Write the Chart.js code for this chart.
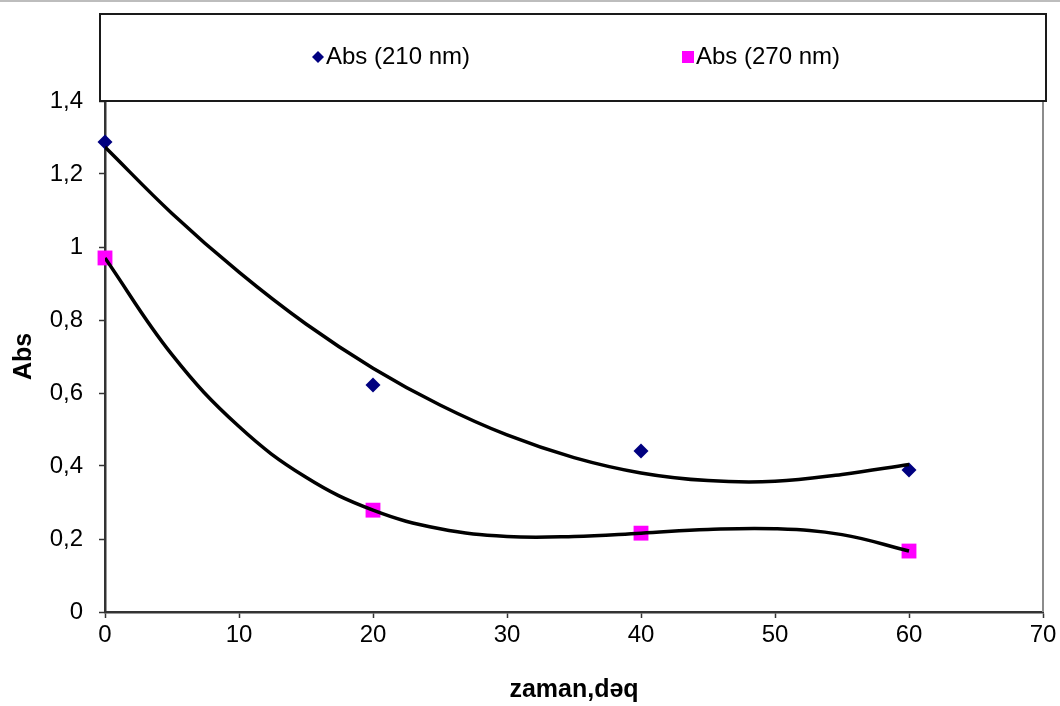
<!DOCTYPE html>
<html lang="az">
<head>
<meta charset="UTF-8">
<title>Abs - zaman</title>
<script src="https://cdn.jsdelivr.net/npm/chart.js"></script>
<style>
  html, body { margin: 0; padding: 0; background: #fff; }
  .wrap { width: 1060px; height: 706px; }
</style>
</head>
<body>
<div class="wrap"><canvas id="absChart" width="1060" height="706"></canvas></div>
<script>
// measured points
const minutes = [0, 20, 40, 60];
const abs210 = [1.288, 0.622, 0.441, 0.389];
const abs270 = [0.970, 0.279, 0.216, 0.167];
const seriesNames = ['Abs (210 nm)', 'Abs (270 nm)'];

// trend curves, every 5 min
const trendMinutes = [0, 5, 10, 15, 20, 25, 30, 35, 40, 45, 50, 55, 60];
const trend210 = [1.274, 1.092, 0.931, 0.789, 0.668, 0.567, 0.485, 0.423, 0.381, 0.360, 0.358, 0.377, 0.404];
const trend270 = [0.970, 0.705, 0.508, 0.369, 0.279, 0.228, 0.207, 0.207, 0.216, 0.226, 0.228, 0.212, 0.167];

const xTicks = [0, 10, 20, 30, 40, 50, 60, 70];
const yTicks = [0, 0.2, 0.4, 0.6, 0.8, 1, 1.2, 1.4];

const FONT = '"Liberation Sans", Arial, sans-serif';
const NAVY = '#000080';
const MAGENTA = '#ff00ff';

function pts(xs, ys) {
  return xs.map((x, i) => ({ x: x, y: ys[i] }));
}

// white background, outer frame line, legend box and right border
const framePlugin = {
  id: 'frame',
  beforeDraw(chart) {
    const ctx = chart.ctx;
    ctx.save();
    ctx.fillStyle = '#fff';
    ctx.fillRect(0, 0, chart.width, chart.height);
    ctx.restore();
  },
  afterDraw(chart) {
    const ctx = chart.ctx;
    const a = chart.chartArea;
    ctx.save();
    // thin gray line along the top of the picture
    ctx.strokeStyle = '#bdbdbd';
    ctx.lineWidth = 2;
    ctx.beginPath();
    ctx.moveTo(0, 1);
    ctx.lineTo(chart.width, 1);
    ctx.stroke();

    // right edge of plot area
    ctx.strokeStyle = '#8c8c8c';
    ctx.lineWidth = 2;
    ctx.beginPath();
    ctx.moveTo(a.right, a.top);
    ctx.lineTo(a.right, a.bottom);
    ctx.stroke();

    // legend box
    const boxL = a.left - 5, boxR = a.right + 3, boxT = 14, boxB = a.top;
    ctx.strokeStyle = '#1a1a1a';
    ctx.lineWidth = 2;
    ctx.strokeRect(boxL, boxT, boxR - boxL, boxB - boxT);

    // legend entries
    const cy = 57;
    ctx.font = '24px ' + FONT;
    ctx.textBaseline = 'middle';
    ctx.textAlign = 'left';

    ctx.fillStyle = NAVY;
    ctx.beginPath();
    ctx.moveTo(318, cy - 6);
    ctx.lineTo(324, cy);
    ctx.lineTo(318, cy + 6);
    ctx.lineTo(312, cy);
    ctx.closePath();
    ctx.fill();
    ctx.fillStyle = '#000';
    ctx.fillText(seriesNames[0], 326, cy);

    ctx.fillStyle = MAGENTA;
    ctx.fillRect(682, cy - 6, 12, 12);
    ctx.fillStyle = '#000';
    ctx.fillText(seriesNames[1], 696, cy);
    ctx.restore();
  }
};

const chart = new Chart(document.getElementById('absChart'), {
  type: 'scatter',
  data: {
    datasets: [
      {
        label: 'trend 210',
        data: pts(trendMinutes, trend210),
        showLine: true,
        borderColor: '#000',
        borderWidth: 3.5,
        pointRadius: 0,
        tension: 0.4,
        order: 0
      },
      {
        label: 'trend 270',
        data: pts(trendMinutes, trend270),
        showLine: true,
        borderColor: '#000',
        borderWidth: 3.5,
        pointRadius: 0,
        tension: 0.4,
        order: 0
      },
      {
        label: seriesNames[0],
        data: pts(minutes, abs210),
        pointStyle: 'rectRot',
        pointRadius: 7.5,
        backgroundColor: NAVY,
        borderColor: NAVY,
        borderWidth: 0,
        clip: false,
        order: 1
      },
      {
        label: seriesNames[1],
        data: pts(minutes, abs270),
        pointStyle: 'rect',
        pointRadius: 10.5,
        backgroundColor: MAGENTA,
        borderColor: MAGENTA,
        borderWidth: 0,
        clip: false,
        order: 1
      }
    ]
  },
  options: {
    responsive: false,
    animation: false,
    layout: { padding: { top: 101, right: 17, left: 0, bottom: 0 } },
    plugins: {
      legend: { display: false },
      tooltip: { enabled: false }
    },
    scales: {
      x: {
        type: 'linear',
        min: 0,
        max: 70,
        afterFit(scale) { scale.height = 94; },
        afterBuildTicks(scale) { scale.ticks = xTicks.map(v => ({ value: v })); },
        grid: { drawOnChartArea: false, tickLength: 6, color: '#333', tickWidth: 1.5 },
        border: { color: '#333', width: 2.5 },
        ticks: {
          color: '#000',
          padding: 3,
          maxRotation: 0,
          font: { family: FONT, size: 24 }
        },
        title: {
          display: true,
          text: 'zaman,dəq',
          color: '#000',
          font: { family: FONT, size: 25, weight: 'bold' },
          padding: { top: 0, bottom: 1 }
        }
      },
      y: {
        min: 0,
        max: 1.4,
        afterFit(scale) { scale.width = 105; },
        afterBuildTicks(scale) { scale.ticks = yTicks.map(v => ({ value: v })); },
        grid: { drawOnChartArea: false, tickLength: 6, color: '#333', tickWidth: 1.5 },
        border: { color: '#333', width: 2.5 },
        ticks: {
          color: '#000',
          padding: 16,
          font: { family: FONT, size: 24 },
          callback: v => String(Number(v.toFixed(1))).replace('.', ',')
        },
        title: {
          display: true,
          text: 'Abs',
          color: '#000',
          font: { family: FONT, size: 25, weight: 'bold' },
          padding: { top: 9, bottom: 0 }
        }
      }
    }
  },
  plugins: [framePlugin]
});
</script>
</body>
</html>
